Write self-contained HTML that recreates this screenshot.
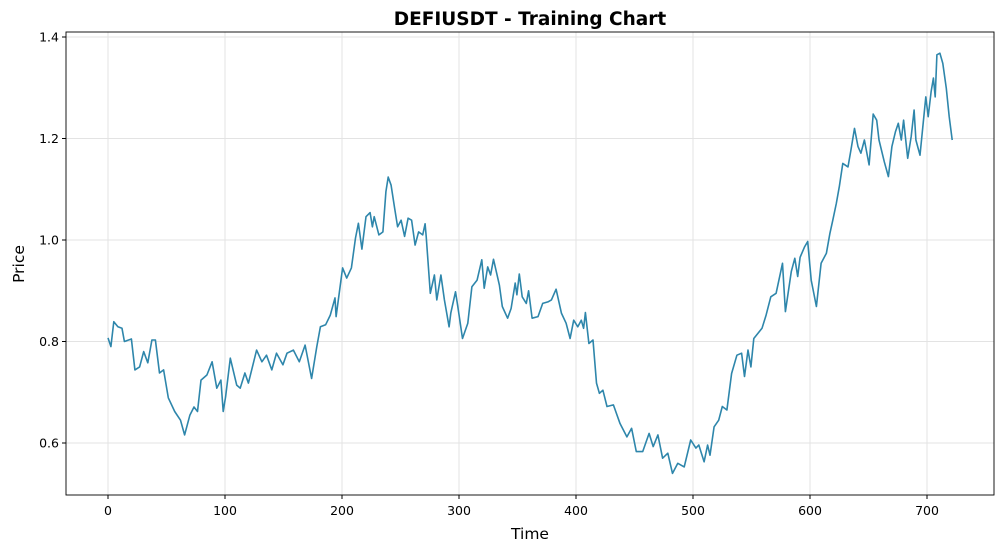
<!DOCTYPE html>
<html><head><meta charset="utf-8"><style>
body{margin:0;background:#fff;}
svg text{font-family:"DejaVu Sans","Liberation Sans",sans-serif;}
</style></head><body>
<svg id="chart" width="1005" height="552" viewBox="0 0 1005 552">
<rect width="1005" height="552" fill="#fff"/>
<text x="530" y="25" text-anchor="middle" font-size="18.5" font-weight="bold">DEFIUSDT - Training Chart</text>
<g id="grid"></g>
<g id="ticks"></g>
<path id="line" fill="none" stroke="#2e86ab" stroke-width="1.6" stroke-linejoin="round"/>
<rect x="66" y="32" width="928" height="463" fill="none" stroke="#000" stroke-width="0.9"/>
<text x="530" y="539" text-anchor="middle" font-size="15.5">Time</text>
<text x="24" y="264" text-anchor="middle" font-size="15.5" transform="rotate(-90 24 264)">Price</text>
</svg>
<script>
const times=[0,2.5,5,8.5,12,14,20,23,27,30.5,34,37.5,40.5,44,47.5,51.5,57,62,65.5,70,73.5,76.5,79.5,84.5,89,93,96.5,98.5,100.5,104.5,110,113,117,120,127,131.5,135.5,140,144,149.5,153,158.5,163.5,168.5,174,178.5,181.5,186,190,194,195,200.5,204,208,211.5,214,217,220.5,224,226,227.5,231.5,235,237.5,239.5,242,245,247.5,250.5,253.5,256.5,259.5,262.5,265.5,269,271,272,275.5,279,281,284.5,287.5,291.5,293,297,299,303,307.5,311,315.5,319.5,321.5,324.5,327,329.5,334.5,337,341.5,344.5,348,349.5,351.5,354,357.5,359.5,362.5,367.5,371.5,376,379,383,387.5,391.5,395,398,401.5,404.5,406.5,408,411,414.5,417.5,420,423,426.5,432,437.5,443.5,447.5,451.5,457,462.5,466,470,474,478.5,482.5,487,492.5,498,502.5,505,509.5,512.5,514.5,518,522,525,529,533,537.5,541.5,544,547,549.5,552,559,562.5,566.5,571,576.5,579,584,587,589.5,591.5,595.5,598,601,605.5,609.5,614,617,619.5,622.5,625,628,632.5,635,638,641,643.5,646.5,650.5,654,657,659,663.5,667,670,673,675.5,678,680,683.5,686.5,689,690.5,694,699,701,703.5,705.5,707,708.5,711,713.5,716.5,719,721.5];
const prices=[0.807,0.79,0.839,0.829,0.826,0.80,0.805,0.744,0.75,0.78,0.758,0.803,0.803,0.738,0.744,0.689,0.662,0.645,0.616,0.655,0.671,0.662,0.724,0.734,0.76,0.708,0.724,0.662,0.691,0.767,0.714,0.708,0.738,0.718,0.783,0.76,0.773,0.744,0.777,0.754,0.777,0.783,0.76,0.793,0.727,0.79,0.829,0.833,0.852,0.886,0.849,0.945,0.925,0.945,1.004,1.033,0.982,1.046,1.054,1.026,1.046,1.01,1.016,1.095,1.124,1.108,1.063,1.026,1.039,1.007,1.043,1.039,0.99,1.016,1.01,1.032,1.007,0.895,0.931,0.882,0.931,0.882,0.829,0.856,0.898,0.869,0.806,0.836,0.908,0.921,0.961,0.905,0.947,0.931,0.962,0.911,0.869,0.846,0.865,0.915,0.892,0.933,0.888,0.875,0.9,0.846,0.849,0.875,0.878,0.882,0.903,0.856,0.836,0.806,0.842,0.829,0.842,0.826,0.857,0.796,0.803,0.718,0.698,0.704,0.672,0.675,0.639,0.612,0.629,0.583,0.583,0.619,0.593,0.616,0.57,0.58,0.54,0.56,0.553,0.606,0.59,0.596,0.563,0.596,0.576,0.632,0.645,0.672,0.665,0.737,0.773,0.777,0.731,0.783,0.75,0.806,0.826,0.852,0.888,0.895,0.954,0.859,0.938,0.964,0.928,0.966,0.987,0.997,0.921,0.869,0.954,0.974,1.013,1.039,1.072,1.105,1.151,1.144,1.177,1.22,1.184,1.171,1.197,1.148,1.248,1.236,1.197,1.154,1.125,1.184,1.213,1.23,1.197,1.236,1.161,1.204,1.256,1.197,1.167,1.282,1.243,1.292,1.319,1.282,1.365,1.368,1.348,1.299,1.243,1.197];
const xTicks=[0,100,200,300,400,500,600,700];
const yTicks=[0.6,0.8,1.0,1.2,1.4];
const yTickLabels=["0.6","0.8","1.0","1.2","1.4"];
const NS="http://www.w3.org/2000/svg";
const X=t=>108+t*1.17;
const Y=p=>240-(p-1.0)*507.5;
const grid=document.getElementById('grid'),ticks=document.getElementById('ticks');
function mk(tag,attrs,parent){const e=document.createElementNS(NS,tag);for(const k in attrs)e.setAttribute(k,attrs[k]);parent.appendChild(e);return e;}
xTicks.forEach(t=>{
  const g=mk('line',{x1:X(t),x2:X(t),y1:32,y2:495,stroke:'#e3e3e3','stroke-width':1},grid);
  
  
  mk('line',{x1:X(t),x2:X(t),y1:495,y2:499,stroke:'#000'},ticks);
  const l=mk('text',{x:X(t),y:515,'text-anchor':'middle','font-size':12.5},ticks);
  l.textContent=t;
  
  
});
yTicks.forEach((p,i)=>{
  const g=mk('line',{x1:66,x2:994,y1:Y(p),y2:Y(p),stroke:'#e3e3e3','stroke-width':1},grid);
  
  
  mk('line',{x1:62,x2:66,y1:Y(p),y2:Y(p),stroke:'#000'},ticks);
  const l=mk('text',{x:59,y:Y(p)+4.5,'text-anchor':'end','font-size':12.5},ticks);
  l.textContent=yTickLabels[i];
  
  
});
document.getElementById('line').setAttribute('d',times.map((t,i)=>(i?'L':'M')+X(t).toFixed(1)+' '+Y(prices[i]).toFixed(1)).join(' '));
</script>
</body></html>
